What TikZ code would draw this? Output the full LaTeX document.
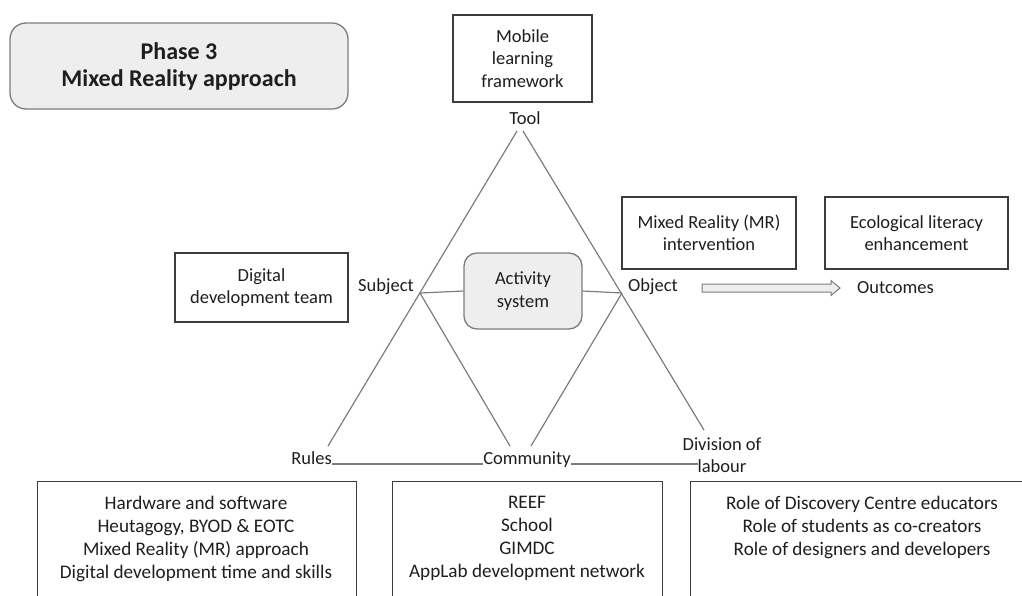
\documentclass[tikz,border=0pt]{standalone}
\usepackage{fontspec}
\setmainfont{Carlito}
\usetikzlibrary{calc}
\definecolor{edgegray}{HTML}{7C7C7C}
\definecolor{boxline}{HTML}{3C3C3C}
\definecolor{softfill}{HTML}{EEEEEE}
\definecolor{ink}{HTML}{1E1E1E}
\begin{document}
\begin{tikzpicture}[x=1pt,y=-1pt,
  txt/.style={font=\fontsize{18.5}{22.5}\selectfont, text=ink, inner sep=0pt, align=center},
  listtxt/.style={txt, font=\fontsize{19.2}{23}\selectfont},
  framebox/.style={txt, draw=boxline, line width=1.3pt},
  softbox/.style={txt, draw=edgegray, line width=1.3pt, fill=softfill, rounded corners=13pt},
  openbox/.style={draw=boxline, line width=1.3pt, inner sep=0pt},
  edge/.style={draw=edgegray, line width=1.2pt},
  flowshape/.style={draw=edgegray, fill=softfill, line width=1pt, line join=miter}
]
\useasboundingbox (0,0) rectangle (1022,595);

% title panel
\node[softbox, rounded corners=16pt, minimum width=338pt, minimum height=86pt,
  font=\fontsize{24}{27}\selectfont\bfseries] (phase) at (179,66) {Phase 3\\Mixed Reality approach};

% tool, subject and object boxes
\node[framebox, minimum width=139pt, minimum height=87pt] (mobile) at (522.5,58.5) {Mobile\\learning\\framework};
\node[framebox, minimum width=173pt, minimum height=69pt] (team) at (261.5,287.5) {Digital\\development team};
\node[framebox, minimum width=174pt, minimum height=72pt] (mr) at (709,233) {Mixed Reality (MR)\\intervention};
\node[framebox, minimum width=183pt, minimum height=72pt] (eco) at (916.5,233) {Ecological literacy\\enhancement};

% centre of the activity system
\node[softbox, minimum width=118pt, minimum height=76pt] (activity) at (523,291) {Activity\\system};

% corner labels
\node[txt] (tool) at (525,118) {Tool};
\node[txt, anchor=east] (subject) at (414,287) {Subject};
\node[txt, anchor=west] (object) at (628,287) {Object};
\node[txt, anchor=west] (outcomes) at (857,288) {Outcomes};
\node[txt, anchor=base east] (rules) at (332,464) {Rules};
\node[txt, anchor=base] (community) at (527,464) {Community};
\node[txt] (division) at (722,455) {Division of\\labour};

% transformation arrow from object to outcomes
\coordinate (flowStart) at (702,288);
\coordinate (flowTip) at (840,288);
\draw[flowshape] ($(flowStart)+(0,-4)$) -- ($(flowTip)+(-9,-4)$) -- ($(flowTip)+(-9,-7.5)$)
  -- (flowTip) -- ($(flowTip)+(-9,7.5)$) -- ($(flowTip)+(-9,4)$) -- ($(flowStart)+(0,4)$) -- cycle;

% triangle vertices and ends
\coordinate (topL) at (517,131);
\coordinate (topR) at (523,131);
\coordinate (subj) at (420,293);
\coordinate (obj) at (622,293);
\coordinate (rulesTop) at (328,446);
\coordinate (commL) at (510,446);
\coordinate (commR) at (531,446);
\coordinate (divTop) at (704,430);
\coordinate (divBase) at (698,464);

\draw[edge] (topL) -- (rulesTop);
\draw[edge] (topR) -- (divTop);
\draw[edge] (subj) -- (commL);
\draw[edge] (obj) -- (commR);
\draw[edge] (subj) -- (activity.west);
\draw[edge] (activity.east) -- (obj);
\draw[edge] (rules.base east) -- (community.base west);
\draw[edge] (community.base east) -- (divBase);

% mediating elements along the base
\node[openbox, anchor=north west, minimum width=319pt, minimum height=150pt] (rulesbox) at (37,481) {};
\node[openbox, anchor=north west, minimum width=270pt, minimum height=150pt] (commbox) at (392,481) {};
\node[openbox, anchor=north west, minimum width=360pt, minimum height=150pt] (labourbox) at (690,481) {};

\node[listtxt, anchor=north] (rulestext) at (196,496) {Hardware and software\\Heutagogy, BYOD \& EOTC\\Mixed Reality (MR) approach\\Digital development time and skills};
\node[listtxt, anchor=north] (commtext) at (527,496) {REEF\\School\\GIMDC\\AppLab development network};
\node[listtxt, anchor=north] (labourtext) at (862,496) {Role of Discovery Centre educators\\Role of students as co-creators\\Role of designers and developers};
\end{tikzpicture}
\end{document}
